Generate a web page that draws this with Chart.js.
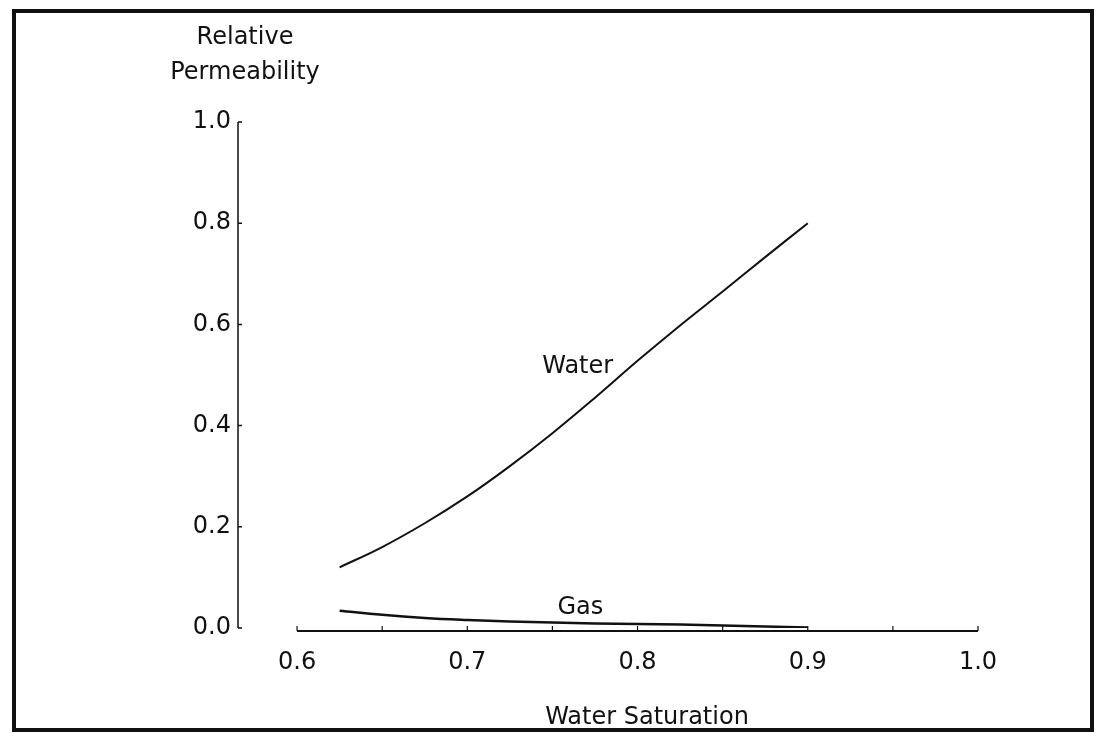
<!DOCTYPE html>
<html>
<head>
    <meta charset="UTF-8">
    <title>Relative Permeability</title>
    <script src="https://cdn.jsdelivr.net/npm/chart.js"></script>
    <style>
        body { margin: 0; background: #fff; }
        canvas { display: block; }
    </style>
</head>
<body>
    <canvas id="myChart" width="1096" height="743"></canvas>
    <script>
        // water saturation values (x) shared by both curves
        const saturation = [0.625, 0.65, 0.675, 0.7, 0.725, 0.75, 0.775, 0.8, 0.825, 0.85, 0.875, 0.9];
        const waterKr = [0.12, 0.16, 0.207, 0.26, 0.32, 0.385, 0.455, 0.528, 0.598, 0.665, 0.733, 0.80];
        const gasKr = [0.034, 0.026, 0.020, 0.016, 0.013, 0.011, 0.009, 0.008, 0.007, 0.005, 0.003, 0.001];

        const xTicks = [0.6, 0.7, 0.8, 0.9, 1.0];
        const xMinorTicks = [0.65, 0.75, 0.85, 0.95];
        const yTicks = [0.0, 0.2, 0.4, 0.6, 0.8, 1.0];

        // curve labels placed in data units
        const curveLabels = [
            { text: 'Water', x: 0.744, y: 0.516 },
            { text: 'Gas', x: 0.753, y: 0.040 }
        ];

        const FONT = '24px "DejaVu Sans"';
        const INK = '#111';

        const toPoints = (xs, ys) => xs.map((x, i) => ({ x: x, y: ys[i] }));

        // draws the frame, the detached axes, tick labels and titles
        const paperAxes = {
            id: 'paperAxes',
            afterDraw(chart) {
                const c = chart.ctx;
                const xs = chart.scales.x;
                const ys = chart.scales.y;
                const y0 = ys.getPixelForValue(0);
                const xAxisY = y0 + 3;
                const yAxisX = chart.chartArea.left;

                c.save();
                c.strokeStyle = INK;
                c.fillStyle = INK;

                // outer frame
                c.lineWidth = 4;
                c.strokeRect(14, 11, 1078, 719);

                // y axis
                c.lineWidth = 1.5;
                c.beginPath();
                c.moveTo(yAxisX, ys.getPixelForValue(1.0));
                c.lineTo(yAxisX, y0);
                yTicks.forEach(v => {
                    const py = ys.getPixelForValue(v);
                    c.moveTo(yAxisX, py);
                    c.lineTo(yAxisX + 4, py);
                });
                c.stroke();

                // x axis
                c.lineWidth = 2;
                c.beginPath();
                c.moveTo(xs.getPixelForValue(0.6), xAxisY);
                c.lineTo(xs.getPixelForValue(1.0), xAxisY);
                c.stroke();
                c.lineWidth = 1.2;
                c.beginPath();
                xTicks.concat(xMinorTicks).forEach(v => {
                    const px = xs.getPixelForValue(v);
                    c.moveTo(px, xAxisY);
                    c.lineTo(px, xAxisY - 5);
                });
                c.stroke();

                c.font = FONT;
                c.textBaseline = 'middle';

                // y tick labels
                c.textAlign = 'right';
                yTicks.forEach(v => {
                    c.fillText(v.toFixed(1), yAxisX - 7, ys.getPixelForValue(v));
                });

                // x tick labels
                c.textAlign = 'center';
                xTicks.forEach(v => {
                    c.fillText(v.toFixed(1), xs.getPixelForValue(v), 663);
                });

                // axis titles
                c.fillText('Relative', 245, 38);
                c.fillText('Permeability', 245, 73);
                c.fillText('Water Saturation', 647, 718);

                // curve labels
                c.textAlign = 'left';
                curveLabels.forEach(l => {
                    c.fillText(l.text, xs.getPixelForValue(l.x), ys.getPixelForValue(l.y));
                });
                c.restore();
            }
        };

        const ctx = document.getElementById('myChart').getContext('2d');
        const chart = new Chart(ctx, {
            type: 'line',
            data: {
                datasets: [
                    {
                        label: 'Water',
                        data: toPoints(saturation, waterKr),
                        borderColor: INK,
                        borderWidth: 2,
                        pointRadius: 0,
                        fill: false,
                        tension: 0.4
                    },
                    {
                        label: 'Gas',
                        data: toPoints(saturation, gasKr),
                        borderColor: INK,
                        borderWidth: 2.5,
                        pointRadius: 0,
                        fill: false,
                        tension: 0.4
                    }
                ]
            },
            options: {
                responsive: false,
                animation: false,
                layout: {
                    padding: { left: 238, right: 118, top: 122, bottom: 115 }
                },
                plugins: {
                    legend: { display: false },
                    tooltip: { enabled: false }
                },
                scales: {
                    x: {
                        type: 'linear',
                        display: false,
                        min: 0.5653,  // y axis sits left of the 0.6 start
                        max: 1.0
                    },
                    y: {
                        display: false,
                        min: 0,
                        max: 1.0
                    }
                }
            },
            plugins: [paperAxes]
        });
    </script>
</body>
</html>
